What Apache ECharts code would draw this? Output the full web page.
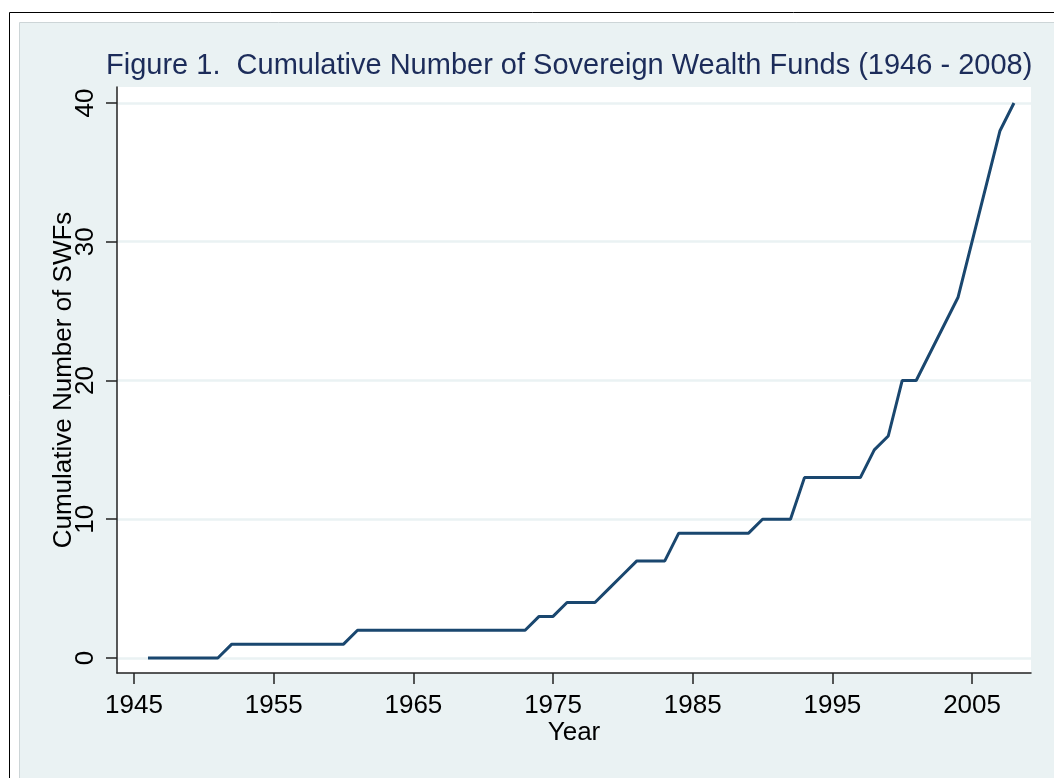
<!DOCTYPE html>
<html>
<head>
<meta charset="utf-8">
<script src="https://cdn.jsdelivr.net/npm/echarts@6/dist/echarts.min.js"></script>
<style>
  html, body { margin: 0; padding: 0; background: #fff; }
  #main { width: 1054px; height: 778px; }
</style>
</head>
<body>
<div id="main"></div>
<script>
// 数据
var years = [1946, 1947, 1948, 1949, 1950, 1951, 1952, 1953, 1954, 1955, 1956, 1957, 1958, 1959, 1960,
    1961, 1962, 1963, 1964, 1965, 1966, 1967, 1968, 1969, 1970, 1971, 1972, 1973, 1974, 1975, 1976, 1977,
    1978, 1979, 1980, 1981, 1982, 1983, 1984, 1985, 1986, 1987, 1988, 1989, 1990, 1991, 1992, 1993, 1994,
    1995, 1996, 1997, 1998, 1999, 2000, 2001, 2002, 2003, 2004, 2005, 2006, 2007, 2008];
var cumulativeSWFs = [0, 0, 0, 0, 0, 0, 1, 1, 1, 1, 1, 1, 1, 1, 1,
    2, 2, 2, 2, 2, 2, 2, 2, 2, 2, 2, 2, 2, 3, 3, 4, 4,
    4, 5, 6, 7, 7, 7, 9, 9, 9, 9, 9, 9, 10, 10, 10, 13, 13,
    13, 13, 13, 15, 16, 20, 20, 22, 24, 26, 30, 34, 38, 40];
var xTicks = [1945, 1955, 1965, 1975, 1985, 1995, 2005];
var yTicks = [0, 10, 20, 30, 40];

var chart = echarts.init(document.getElementById('main'));

var seriesData = [];
for (var i = 0; i < years.length; i++) {
    seriesData.push([years[i], cumulativeSWFs[i]]);
}

var labelFont = '"Liberation Sans", Arial, sans-serif';

var option = {
    backgroundColor: '#fff',
    animation: false,
    graphic: [
        {
            type: 'rect',
            z: -10,
            shape: { x: 9.5, y: 12.5, width: 1200, height: 900 },
            style: { fill: '#fff', stroke: '#000', lineWidth: 1 }
        },
        {
            type: 'rect',
            z: -9,
            shape: { x: 19.5, y: 22.5, width: 1200, height: 900 },
            style: { fill: '#eaf2f3', stroke: '#cdd5d7', lineWidth: 1 }
        }
    ],
    title: {
        text: 'Figure 1.  Cumulative Number of Sovereign Wealth Funds (1946 - 2008)',
        left: 106,
        top: 51,
        padding: 0,
        textStyle: {
            fontFamily: labelFont,
            fontSize: 29,
            fontWeight: 'normal',
            color: '#1c2c5a'
        }
    },
    grid: {
        left: 117,
        right: 23,
        top: 87,
        bottom: 105,
        show: true,
        backgroundColor: '#fff',
        borderWidth: 0
    },
    xAxis: {
        type: 'value',
        min: 1943.78,
        max: 2009.22,
        name: 'Year',
        nameLocation: 'middle',
        nameGap: 47,
        nameMoveOverlap: false,
        nameTextStyle: { fontFamily: labelFont, fontSize: 26, color: '#000' },
        axisLine: { show: true, onZero: false, lineStyle: { color: '#222', width: 1.5 } },
        axisTick: { show: true, length: 11, customValues: xTicks, lineStyle: { color: '#222', width: 1.5 } },
        axisLabel: {
            customValues: xTicks,
            margin: 20,
            fontFamily: labelFont,
            fontSize: 26,
            color: '#000',
            formatter: function (v) { return String(v); }
        },
        splitLine: { show: false }
    },
    yAxis: {
        type: 'value',
        min: -1.08,
        max: 41.15,
        name: 'Cumulative Number of SWFs',
        nameLocation: 'middle',
        nameRotate: 90,
        nameGap: 40,
        nameMoveOverlap: false,
        nameTextStyle: { fontFamily: labelFont, fontSize: 26, color: '#000' },
        axisLine: { show: true, onZero: false, lineStyle: { color: '#222', width: 1.5 } },
        axisTick: { show: true, length: 11, customValues: yTicks, lineStyle: { color: '#222', width: 1.5 } },
        axisLabel: {
            customValues: yTicks,
            rotate: 90,
            margin: 18,
            fontFamily: labelFont,
            fontSize: 26,
            color: '#000'
        },
        splitLine: { show: true, lineStyle: { color: '#eaf2f3', width: 2.5 } }
    },
    series: [{
        name: 'Cumulative Number of SWFs',
        type: 'line',
        data: seriesData,
        showSymbol: false,
        symbol: 'none',
        lineStyle: { color: '#1a476f', width: 3 },
        z: 5
    }]
};

chart.setOption(option);
</script>
</body>
</html>
